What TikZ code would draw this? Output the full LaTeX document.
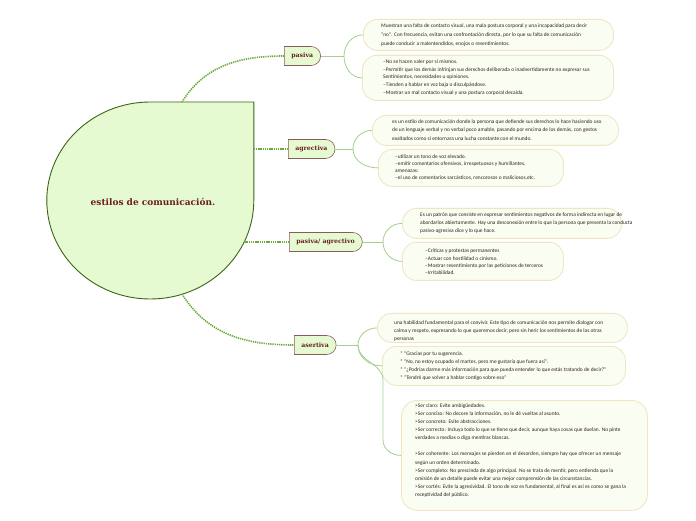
\documentclass[tikz,border=0pt]{standalone}
\usepackage{fontspec}
\usetikzlibrary{shapes.misc}
\newfontfamily\txtfont{Carlito}
\newfontfamily\labfont{DejaVu Serif}
\definecolor{dotgreen}{HTML}{6DAA3C}
\definecolor{brgreen}{HTML}{A5CF8A}
\definecolor{lgreen}{HTML}{E6FAD2}
\definecolor{dkgreen}{HTML}{3C6414}
\definecolor{brn}{HTML}{8C5A5A}
\definecolor{dred}{HTML}{6B1E1E}
\definecolor{cream}{HTML}{F0E5C2}
\definecolor{cfill}{HTML}{FAFDF1}
\definecolor{ctxt}{HTML}{2E2220}
\tikzset{
 dotc/.style={draw=dotgreen, line width=1.6pt, dash pattern=on 1.3pt off 0.9pt},
 brack/.style={draw=brgreen, line width=0.8pt},
 branch/.style={shape=rounded rectangle, rounded rectangle west arc=none,
   draw=brn, fill=lgreen, line width=0.6pt, minimum height=19pt, inner xsep=7pt,
   inner ysep=0pt, font=\labfont\bfseries\fontsize{6.2}{7}\selectfont, text=dred, anchor=west},
 cbox/.style={draw=cream, fill=cfill, line width=0.8pt, rounded corners=14pt,
   anchor=north west, inner sep=0pt},
 ctext/.style={anchor=west, align=left, inner sep=0pt, text=ctxt,
   font=\txtfont\fontsize{5.4}{#1}\selectfont},
}
\begin{document}
\begin{tikzpicture}[x=1pt,y=1pt]
\useasboundingbox[fill=white] (0,0) rectangle (696,520);
% central shape
\filldraw[fill=lgreen, draw=dkgreen, line width=0.9pt]
  (150.3,418) -- (253.8,418) -- (253.8,319.5)
  arc[start angle=0, end angle=-270, x radius=103.5, y radius=98.5] -- cycle;
\node[font=\labfont\bfseries\fontsize{9}{11}\selectfont, text=dred] (center) at (153,318) {estilos de comunicación.};
\coordinate (cT) at (182,418);
\coordinate (cA) at (253.8,371);
\coordinate (cP) at (244.2,278);
\coordinate (cS) at (182,226);
% branches
\node[branch] (pasiva) at (284,464) {pasiva};
\node[branch] (agre) at (288,371) {agrectiva};
\node[branch] (pagre) at (289,278) {pasiva/ agrectivo};
\node[branch] (aser) at (294,175) {asertiva};
\draw[dotc] (cT) to[out=58,in=180] (pasiva.west);
\draw[dotc] (cA) -- (agre.west);
\draw[dotc] (cP) -- (pagre.west);
\draw[dotc] (cS) to[out=-58,in=180] (aser.west);
% child boxes
\node[cbox, minimum width=250pt, minimum height=31pt] (p1) at (363,501) {};
\node[cbox, minimum width=251pt, minimum height=45pt] (p2) at (362,465) {};
\node[cbox, minimum width=246pt, minimum height=30pt] (a1) at (372,405) {};
\node[cbox, minimum width=185pt, minimum height=37pt] (a2) at (378,371) {};
\node[cbox, minimum width=219pt, minimum height=30pt] (pa1) at (402,312) {};
\node[cbox, minimum width=161pt, minimum height=38pt] (pa2) at (402,278) {};
\node[cbox, minimum width=250pt, minimum height=29pt] (as1) at (377,207) {};
\node[cbox, minimum width=243pt, minimum height=39pt] (as2) at (382,174) {};
% connectors
\coordinate (jp) at (344,464);
\coordinate (ja) at (353,371);
\coordinate (jpa) at (383,278);
\coordinate (js) at (358,175);
\coordinate (k1) at (383,140);
\coordinate (k2) at (383,80);
\draw[brack] (pasiva.east) -- (jp);
\draw[brack] (jp) to[out=90,in=180] (p1.west);
\draw[brack] (jp) to[out=-90,in=180] (p2.west);
\draw[brack] (agre.east) -- (ja);
\draw[brack] (ja) to[out=90,in=180] (a1.west);
\draw[brack] (ja) to[out=-90,in=180] (a2.west);
\draw[brack] (pagre.east) -- (jpa);
\draw[brack] (jpa) to[out=90,in=180] (pa1.west);
\draw[brack] (jpa) to[out=-90,in=180] (pa2.west);
\draw[brack] (aser.east) -- (js);
\draw[brack] (js) to[out=90,in=180] (as1.west);
\draw[brack] (js) to[out=-90,in=180] (as2.west);
\draw[brack] (js) to[out=-90,in=90] (k1) -- (k2);
\node[cbox, minimum width=246pt, minimum height=110pt, rounded corners=16pt] (as3) at (401,120) {};
\draw[brack] (k2) to[out=-90,in=180] (as3.west);
% texts
\node[ctext=9] (p1t) at (381,485) {Muestran una falta de contacto visual, una mala postura corporal y una incapacidad para decir\\"no". Con frecuencia, evitan una confrontación directa, por lo que su falta de comunicación\\puede conducir a malentendidos, enojos o resentimientos.};
\node[ctext=7.8] (p2t) at (383,442.5) {–No se hacen valer por sí mismos.\\–Permitir que los demás infrinjan sus derechos deliberada o inadvertidamente no expresar sus\\Sentimientos, necesidades u opiniones.\\–Tienden a hablar en voz baja o disculpándose.\\–Mostrar un mal contacto visual y una postura corporal decaída.};
\node[ctext=8.5] (a1t) at (392,390) {es un estilo de comunicación donde la persona que defiende sus derechos lo hace haciendo uso\\de un lenguaje verbal y no verbal poco amable, pasando por encima de los demás, con gestos\\exaltados como si entornara una lucha constante con el mundo.};
\node[ctext=7.2] (a2t) at (395,352.5) {–utilizar un tono de voz elevado.\\–emitir comentarios ofensivos, irrespetuosos y humillantes,\\amenazas:\\–el uso de comentarios sarcásticos, rencorosos o maliciosos,etc.};
\node[ctext=7.6] (pa1t) at (420,297) {Es un patrón que consiste en expresar sentimientos negativos de forma indirecta en lugar de\\abordarlos abiertamente. Hay una desconexión entre lo que la persona que presenta la conducta\\pasivo-agresiva dice y lo que hace.};
\node[ctext=7.4] (pa2t) at (425,258) {–Críticas y protestas permanentes\\–Actuar con hostilidad o cinismo.\\–Mostrar resentimiento por las peticiones de terceros\\–Irritabilidad.};
\node[ctext=8.2] (as1t) at (394,189) {una habilidad fundamental para el convivir. Este tipo de comunicación nos permite dialogar con\\calma y respeto, expresando lo que queremos decir, pero sin herir los sentimientos de las otras\\personas};
\node[ctext=8] (as2t) at (400,154) {* "Gracias por tu sugerencia.\\* "No, no estoy ocupado el martes, pero me gustaría que fuera así".\\* "¿Podrías darme más información para que pueda entender lo que estás tratando de decir?"\\* "Tendré que volver a hablar contigo sobre eso"};
\node[ctext=8.1] (as3t) at (415,69.5) {>Ser claro: Evite ambigüedades.\\>Ser conciso: No decore la información, no le dé vueltas al asunto.\\>Ser concreto: Evite abstracciones.\\>Ser correcto: Incluya todo lo que se tiene que decir, aunque haya cosas que duelan. No pinte\\verdades a medias o diga mentiras blancas.\\[8.1pt]>Ser coherente: Los mensajes se pierden en el desorden, siempre hay que ofrecer un mensaje\\según un orden determinado.\\>Ser completo: No prescinda de algo principal. No se trata de mentir, pero entienda que la\\omisión de un detalle puede evitar una mejor comprensión de las circunstancias.\\>Ser cortés: Evite la agresividad. El tono de voz es fundamental, al final es así es como se gana la\\receptividad del público.};
\end{tikzpicture}
\end{document}
